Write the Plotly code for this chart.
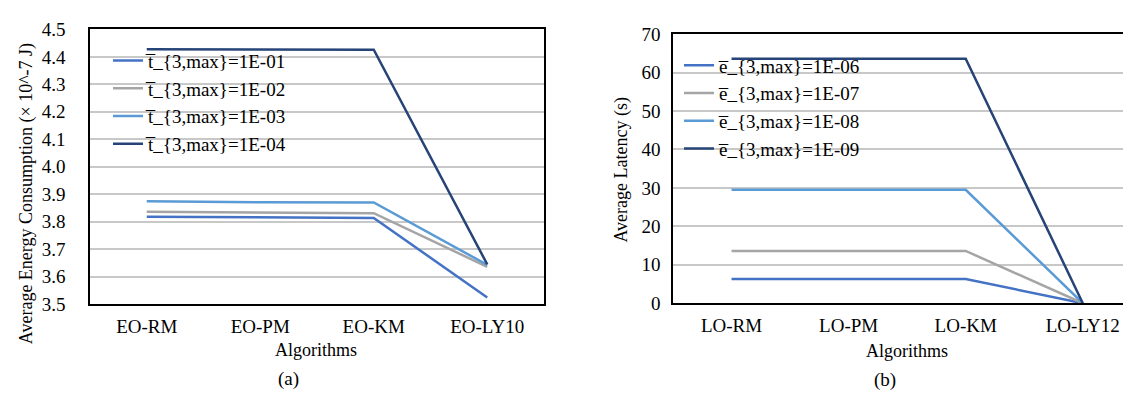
import plotly.graph_objects as go

W, H = 1131, 401

# ---- data ----
categories_a = ["EO-RM", "EO-PM", "EO-KM", "EO-LY10"]
categories_b = ["LO-RM", "LO-PM", "LO-KM", "LO-LY12"]

names_a = ["t\u0305_{3,max}=1E-01", "t\u0305_{3,max}=1E-02",
           "t\u0305_{3,max}=1E-03", "t\u0305_{3,max}=1E-04"]
energy_1e01 = [3.818, 3.815, 3.814, 3.524]
energy_1e02 = [3.836, 3.833, 3.831, 3.636]
energy_1e03 = [3.875, 3.871, 3.870, 3.643]
energy_1e04 = [4.428, 4.426, 4.426, 3.645]

names_b = ["e\u0305_{3,max}=1E-06", "e\u0305_{3,max}=1E-07",
           "e\u0305_{3,max}=1E-08", "e\u0305_{3,max}=1E-09"]
latency_1e06 = [6.3, 6.3, 6.3, 0.0]
latency_1e07 = [13.6, 13.6, 13.6, 0.0]
latency_1e08 = [29.5, 29.5, 29.5, 0.0]
latency_1e09 = [63.6, 63.6, 63.6, 0.0]

ytick_a = [3.5, 3.6, 3.7, 3.8, 3.9, 4.0, 4.1, 4.2, 4.3, 4.4, 4.5]
ytick_b = [0, 10, 20, 30, 40, 50, 60, 70]

colors = ["#4472C4", "#A5A5A5", "#5B9BD5", "#264478"]
FONT = "Liberation Serif, Times New Roman, serif"

fig = go.Figure()

for name, vals, c in zip(names_a, [energy_1e01, energy_1e02, energy_1e03, energy_1e04], colors):
    fig.add_trace(go.Scatter(x=categories_a, y=vals, name=name, mode="lines",
                             line=dict(color=c, width=2.5), xaxis="x", yaxis="y",
                             legend="legend"))
for name, vals, c in zip(names_b, [latency_1e06, latency_1e07, latency_1e08, latency_1e09], colors):
    fig.add_trace(go.Scatter(x=categories_b, y=vals, name=name, mode="lines",
                             line=dict(color=c, width=2.5), xaxis="x2", yaxis="y2",
                             legend="legend2"))

def px(v):
    return v / W

def py(v):
    return 1 - v / H

tickfont = dict(family=FONT, size=19, color="#000")

axis_common = dict(showline=True, linecolor="#000", linewidth=1.5, ticks="",
                   tickfont=tickfont, zeroline=False)

def ann(text, x, y, angle=0, size=18):
    return dict(text=text, x=px(x), y=py(y), xref="paper", yref="paper",
                xanchor="center", yanchor="middle", showarrow=False,
                textangle=angle, font=dict(family=FONT, size=size, color="#000"))

fig.update_layout(
    width=W, height=H,
    margin=dict(l=0, r=0, t=0, b=0),
    paper_bgcolor="white", plot_bgcolor="white",
    font=dict(family=FONT, size=18, color="#000"),
    xaxis=dict(domain=[px(82), px(536)], anchor="y", type="category",
               range=[-0.5, 3.5], showgrid=False, mirror=True,
               ticklabelstandoff=4, **axis_common),
    yaxis=dict(domain=[py(302), py(12)], anchor="x", range=[3.5, 4.5],
               tickvals=ytick_a, ticktext=[f"{v:.1f}" for v in ytick_a],
               showgrid=True, gridcolor="#C8C8C8", gridwidth=1.5, mirror=True,
               ticklabelstandoff=19, **axis_common),
    xaxis2=dict(domain=[px(665), 1.0], anchor="y2", type="category",
                range=[-0.5, 3.48], showgrid=False, mirror=True,
                ticklabelstandoff=4, **axis_common),
    yaxis2=dict(domain=[py(301), py(17)], anchor="x2", range=[0, 70],
                tickvals=ytick_b, showgrid=True, gridcolor="#C8C8C8", gridwidth=1.5,
                mirror=False, ticklabelstandoff=7, **axis_common),
    legend=dict(x=px(100), y=py(25), xanchor="left", yanchor="top",
                bgcolor="rgba(0,0,0,0)", font=dict(family=FONT, size=19),
                itemwidth=30),
    legend2=dict(x=px(671), y=py(30), xanchor="left", yanchor="top",
                 bgcolor="rgba(0,0,0,0)", font=dict(family=FONT, size=19),
                 itemwidth=30),
    annotations=[
        ann("Average Energy Consumption (\u00d7 10^-7 J)", 18, 186, angle=-90),
        ann("Algorithms", 308, 350),
        ann("(a)", 280, 381, size=19),
        ann("Average Latency (s)", 614, 160, angle=-90),
        ann("Algorithms", 899, 351),
        ann("(b)", 877, 382, size=19),
    ],
)

fig.write_html("out.html")
